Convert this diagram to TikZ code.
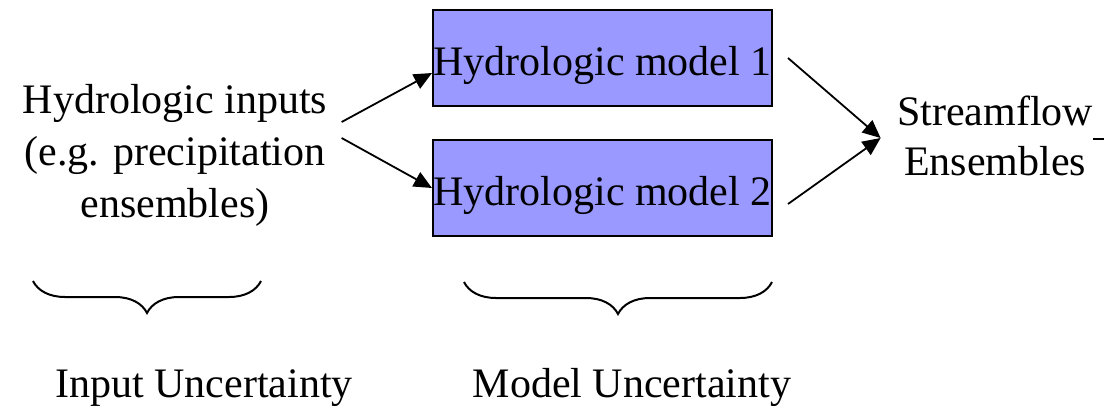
\documentclass[tikz,border=0pt]{standalone}
\usepackage{fontspec}
\setmainfont{Liberation Serif}
\usetikzlibrary{arrows.meta,decorations.pathreplacing,positioning}

\definecolor{modelblue}{RGB}{153,153,255}

\tikzset{
  model/.style={draw, line width=1pt, fill=modelblue, minimum width=169.5pt,
    minimum height=48pt, inner sep=0pt, text height=17pt, text depth=0pt},
  txt/.style={align=center, inner sep=0pt},
  flow/.style={-{Triangle[length=9pt,width=8pt]}, line width=0.9pt},
  brace/.style={decorate, decoration={brace, mirror, amplitude=16pt}, line width=1pt}
}

\begin{document}
\begin{tikzpicture}[x=0.5pt, y=-0.5pt, font=\fontsize{21}{26}\selectfont]

\useasboundingbox (0,0) rectangle (1104,408);

\node[txt] (inputs) at (175,155) {Hydrologic inputs\\(e.g. precipitation\\ensembles)};

\node[model] (m1) at (602.5,58) {Hydrologic model 1};
\node[model, below=16pt of m1] (m2) {Hydrologic model 2};

\node[txt, font=\fontsize{21}{25}\selectfont] (stream) at (995,136) {Streamflow\\Ensembles};

\draw[flow] ([xshift=7pt,yshift=16.5pt]inputs.east) -- ([yshift=-7.5pt]m1.west);
\draw[flow] ([xshift=7pt,yshift=8.5pt]inputs.east) -- (m2.west);

\draw[flow] ([xshift=7.5pt]m1.east) -- ([xshift=-8pt,yshift=-1pt]stream.west);
\draw[flow] ([xshift=7.5pt,yshift=-8pt]m2.east) -- ([xshift=-8pt,yshift=-1pt]stream.west);

\coordinate (edge) at (1104,139);
\draw[line width=0.9pt] (stream.east |- edge) -- (edge);

% braces under the inputs and the models
\draw[brace] (33,281) -- (261,281);
\draw[brace] (464,282) -- (772,282);

\node[txt, anchor=base] (inunc) at (204,397) {Input Uncertainty};
\node[txt, anchor=base] (modunc) at (632,397) {Model Uncertainty};

\end{tikzpicture}
\end{document}
